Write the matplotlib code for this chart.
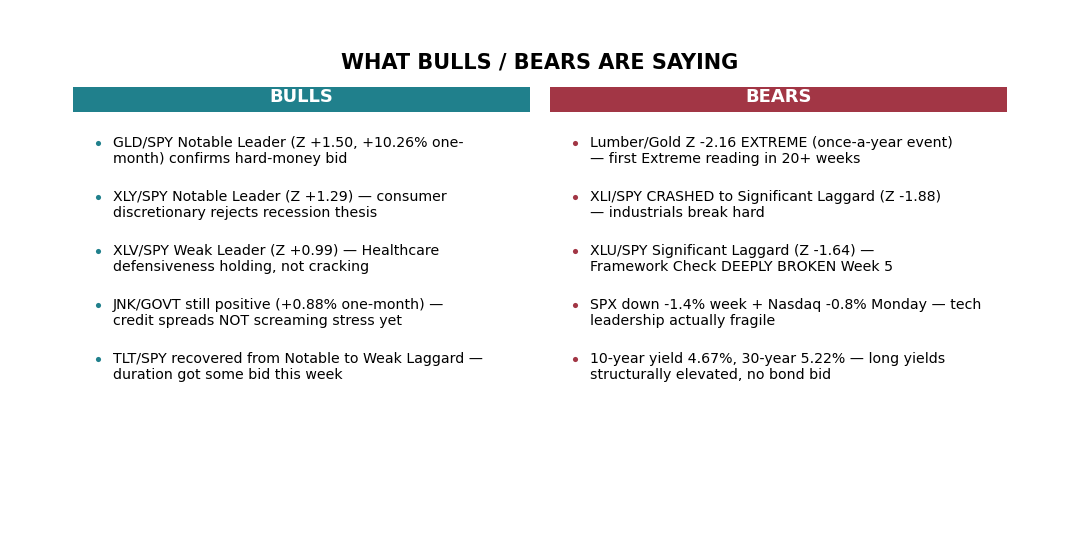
import matplotlib
matplotlib.use("Agg")
import matplotlib.pyplot as plt
from matplotlib.patches import Rectangle

title = "WHAT BULLS / BEARS ARE SAYING"
columns = ["BULLS", "BEARS"]
column_colors = ["#20808c", "#a23645"]
bulls = [
    "GLD/SPY Notable Leader (Z +1.50, +10.26% one-\nmonth) confirms hard-money bid",
    "XLY/SPY Notable Leader (Z +1.29) \u2014 consumer\ndiscretionary rejects recession thesis",
    "XLV/SPY Weak Leader (Z +0.99) \u2014 Healthcare\ndefensiveness holding, not cracking",
    "JNK/GOVT still positive (+0.88% one-month) \u2014\ncredit spreads NOT screaming stress yet",
    "TLT/SPY recovered from Notable to Weak Laggard \u2014\nduration got some bid this week",
]
bears = [
    "Lumber/Gold Z -2.16 EXTREME (once-a-year event)\n\u2014 first Extreme reading in 20+ weeks",
    "XLI/SPY CRASHED to Significant Laggard (Z -1.88)\n\u2014 industrials break hard",
    "XLU/SPY Significant Laggard (Z -1.64) \u2014\nFramework Check DEEPLY BROKEN Week 5",
    "SPX down -1.4% week + Nasdaq -0.8% Monday \u2014 tech\nleadership actually fragile",
    "10-year yield 4.67%, 30-year 5.22% \u2014 long yields\nstructurally elevated, no bond bid",
]

fig = plt.figure(figsize=(10.8, 5.52), dpi=100)
ax = fig.add_axes([0, 0, 1, 1])
ax.set_xlim(0, 1080)
ax.set_ylim(552, 0)
ax.axis("off")

ax.text(540, 62, title, ha="center", va="center", fontsize=15, fontweight="bold", color="black")

col_x = [73, 550]
col_w = 457
for i, (name, color, items) in enumerate(zip(columns, column_colors, [bulls, bears])):
    x0 = col_x[i]
    ax.add_patch(Rectangle((x0, 87), col_w, 25, facecolor=color, edgecolor="none"))
    ax.text(x0 + col_w / 2, 97, name, ha="center", va="center", fontsize=13,
            fontweight="bold", color="white")
    for j, item in enumerate(items):
        y = 136 + j * 54
        ax.plot(x0 + 25, y + 6.7, marker="o", markersize=3.7, color=color, markeredgewidth=0)
        ax.text(x0 + 40, y, item, ha="left", va="top", fontsize=10.2, color="black",
                linespacing=1.2)

fig.savefig("out.png", dpi=100)
